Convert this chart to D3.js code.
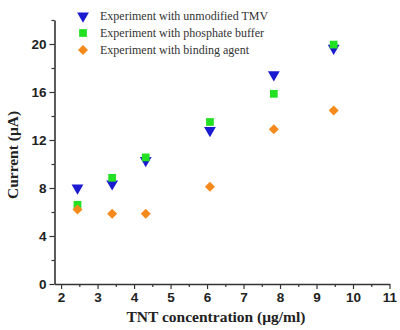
<!DOCTYPE html>
<html>
<head>
<meta charset="utf-8">
<style>
  body { margin: 0; background: #fff; }
  svg { display: block; }
</style>
</head>
<body>
<script src="https://cdn.jsdelivr.net/npm/d3@7/dist/d3.min.js"></script>
<script>

// data
var conc      = [2.45, 3.4, 4.32, 6.08, 7.83, 9.47];
var unmod     = [8.0, 8.35, 10.3, 12.8, 17.45, 19.65];
var phosphate = [6.6, 8.85, 10.55, 13.5, 15.85, 19.95];
var binding   = [6.2, 5.85, 5.85, 8.1, 12.9, 14.45];

var series = [
  {name: 'Experiment with unmodified TMV',   values: unmod,     color: '#1a1ad0', shape: 'tri'},
  {name: 'Experiment with phosphate buffer', values: phosphate, color: '#22e022', shape: 'sq'},
  {name: 'Experiment with binding agent',    values: binding,   color: '#f58a1c', shape: 'dia'},
];

var xTicks = [2, 3, 4, 5, 6, 7, 8, 9, 10, 11];
var yTicks = [0, 4, 8, 12, 16, 20];

var W = 400, H = 330;
var x = d3.scaleLinear().domain([1.82, 11]).range([54.5, 389.5]);
var y = d3.scaleLinear().domain([0, 22]).range([284, 20]);

var svg = d3.select('body').append('svg')
  .attr('width', W).attr('height', H);

// axes
var xAxis = svg.append('g')
  .attr('transform', `translate(0,${y(0)})`)
  .call(d3.axisBottom(x).tickValues(xTicks).tickSize(5).tickSizeOuter(0).tickPadding(3));
xAxis.append('g')
  .call(d3.axisBottom(x).tickValues(d3.range(2.5, 11, 1)).tickSize(3).tickFormat(''))
  .call(g => g.select('.domain').remove());

var yAxis = svg.append('g')
  .attr('transform', `translate(${x.range()[0]},0)`)
  .call(d3.axisLeft(y).tickValues(yTicks).tickSize(5).tickSizeOuter(0).tickPadding(3));
yAxis.append('g')
  .call(d3.axisLeft(y).tickValues([2, 6, 10, 14, 18, 22]).tickSize(3).tickFormat(''))
  .call(g => g.select('.domain').remove());

svg.selectAll('.domain').attr('stroke', '#333').attr('stroke-width', 1.6);
svg.selectAll('.tick line').attr('stroke', '#333').attr('stroke-width', 1.2);
svg.selectAll('.tick text')
  .attr('font-family', 'Liberation Sans, Arial, sans-serif')
  .attr('font-weight', 'bold')
  .attr('font-size', 13.5)
  .attr('fill', '#222');

// axis titles
svg.append('text')
  .attr('x', 216).attr('y', 322)
  .attr('text-anchor', 'middle')
  .attr('font-family', 'Liberation Serif, Times New Roman, serif')
  .attr('font-weight', 'bold').attr('font-size', 15.5)
  .attr('fill', '#222')
  .text('TNT concentration (μg/ml)');

svg.append('text')
  .attr('transform', `translate(18,${155}) rotate(-90)`)
  .attr('text-anchor', 'middle')
  .attr('font-family', 'Liberation Serif, Times New Roman, serif')
  .attr('font-weight', 'bold').attr('font-size', 15.5)
  .attr('fill', '#222')
  .text('Current (μA)');

// markers
var sym = {
  tri: d3.symbol().type(d3.symbolTriangle).size(60),
  sq:  d3.symbol().type(d3.symbolSquare).size(60),
  dia: d3.symbol().type(d3.symbolSquare).size(50),
};
function marker(g, s) {
  g.append('path')
    .attr('d', sym[s.shape]())
    .attr('fill', s.color)
    .attr('transform', s.shape == 'tri' ? 'rotate(180)' : s.shape == 'dia' ? 'rotate(45)' : null);
}

series.forEach(s => {
  svg.append('g').selectAll('g')
    .data(s.values)
    .join('g')
      .attr('transform', (d, i) => `translate(${x(conc[i])},${y(d)})`)
      .each(function() { marker(d3.select(this), s); });
});

// legend
var legend = svg.append('g').attr('transform', 'translate(83,16)');
series.forEach((s, i) => {
  var row = legend.append('g').attr('transform', `translate(0,${i * 17})`);
  marker(row, s);
  row.append('text')
    .attr('x', 17).attr('y', 4)
    .attr('font-family', 'Liberation Serif, Times New Roman, serif')
    .attr('font-size', 12)
    .attr('fill', '#333')
    .text(s.name);
});

</script>
</body>
</html>
